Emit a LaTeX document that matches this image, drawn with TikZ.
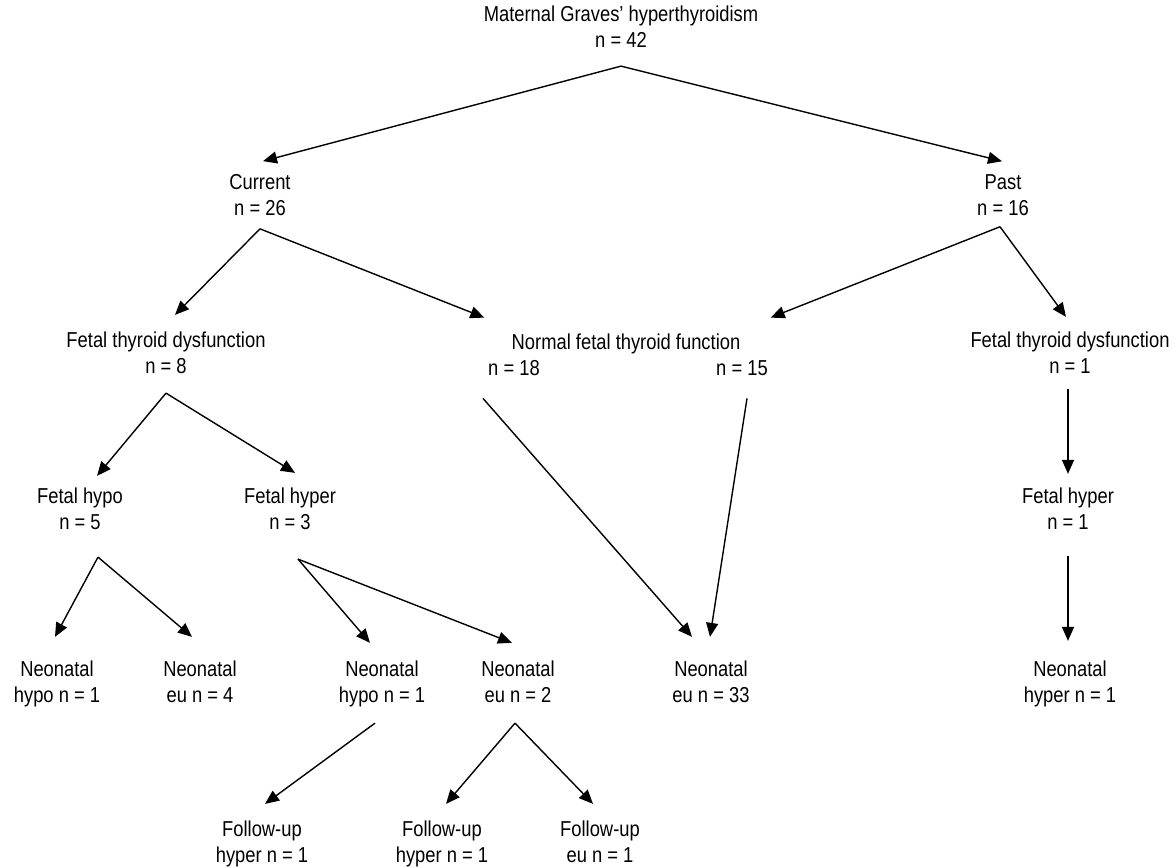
\documentclass[tikz,border=0pt]{standalone}
\usepackage{fontspec}
\setmainfont{Liberation Sans}[FakeStretch=0.85]
\usetikzlibrary{arrows.meta, calc}

\begin{document}
\begin{tikzpicture}[x=0.5pt, y=-0.5pt, >={Triangle[length=7pt,width=6pt]},
    every node/.style={font=\fontsize{10.8}{13}\selectfont, align=center, inner sep=0pt,
      execute at begin node=\strut, execute at end node=\strut},
    arr/.style={->, line width=0.7pt}]

    \useasboundingbox (0,0) rectangle (1175,868);

    % Mother and the two groups
    \node (mat) at (621,31) {Maternal Graves' hyperthyroidism\\n = 42};
    \node (cur) at (260,199) {Current\\n = 26};
    \node (past) at (1003,199) {Past\\n = 16};

    % Fetal thyroid status
    \node (ftd) at (166,357) {Fetal thyroid dysfunction\\n = 8};
    \node (norm) at (626,344) {Normal fetal thyroid function};
    \node (n18) at (514,370) {n = 18};
    \node (n15) at (742,370) {n = 15};
    \node (ftdr) at (1070,357) {Fetal thyroid dysfunction\\n = 1};

    \node (hypo) at (80,513) {Fetal hypo\\n = 5};
    \node (hyper) at (290,513) {Fetal hyper\\n = 3};
    \node (hyperr) at (1068,513) {Fetal hyper\\n = 1};

    % Neonatal outcome
    \node (nhypo) at (57,686) {Neonatal\\hypo n = 1};
    \node (neu) at (200,686) {Neonatal\\eu n = 4};
    \node (nhypo2) at (382,686) {Neonatal\\hypo n = 1};
    \node (neu2) at (518,686) {Neonatal\\eu n = 2};
    \node (neu33) at (711,686) {Neonatal\\eu n = 33};
    \node (nhyper) at (1070,686) {Neonatal\\hyper n = 1};

    % Follow-up
    \node (fhyp1) at (262,846) {Follow-up\\hyper n = 1};
    \node (fhyp2) at (442,846) {Follow-up\\hyper n = 1};
    \node (feu) at (600,846) {Follow-up\\eu n = 1};

    % Arrows from each parent
    \draw[arr] ([yshift=-5pt]mat.south) -- ([xshift=1.5pt,yshift=6.5pt]cur.north);
    \draw[arr] ([yshift=-5pt]mat.south) -- ([xshift=-0.5pt,yshift=6.5pt]past.north);

    \draw[arr] ([yshift=-2.5pt]cur.south) -- ([xshift=4.5pt,yshift=8.5pt]ftd.north);
    \draw[arr] ([yshift=-2.5pt]cur.south) -- ([xshift=-13.5pt,yshift=6.5pt]norm.north west);
    \draw[arr] ([xshift=-1.5pt,yshift=-1.5pt]past.south) -- ([xshift=15pt,yshift=6.5pt]norm.north east);
    \draw[arr] ([xshift=-1.5pt,yshift=-1.5pt]past.south) -- ([xshift=-2pt,yshift=7.5pt]ftdr.north);

    \draw[arr] ([xshift=-1pt,yshift=-3.5pt]ftdr.south) -- ([yshift=7pt]hyperr.north);
    \draw[arr] ([yshift=-9pt]hyperr.south) -- ([xshift=-1pt,yshift=10pt]nhyper.north);

    \draw[arr] ([yshift=-5.5pt]ftd.south) -- ([xshift=8.5pt,yshift=6pt]hypo.north);
    \draw[arr] ([yshift=-5.5pt]ftd.south) -- ([xshift=2.5pt,yshift=7.5pt]hyper.north);

    \draw[arr] ([xshift=9pt,yshift=-9.5pt]hypo.south) -- ([xshift=-1pt,yshift=12pt]nhypo.north);
    \draw[arr] ([xshift=9pt,yshift=-9.5pt]hypo.south) -- ([xshift=-4pt,yshift=12pt]neu.north);
    \draw[arr] ([xshift=4pt,yshift=-10.5pt]hyper.south) -- ([xshift=-6pt,yshift=9pt]nhypo2.north);
    \draw[arr] ([xshift=4pt,yshift=-10.5pt]hyper.south) -- ([xshift=-3pt,yshift=9pt]neu2.north);

    \draw[arr] ([xshift=-15.5pt,yshift=-7.5pt]n18.south) -- ([xshift=-9.5pt,yshift=12pt]neu33.north);
    \draw[arr] ([xshift=2.5pt,yshift=-7.5pt]n15.south) -- ([xshift=-0.5pt,yshift=12pt]neu33.north);

    \draw[arr] ([xshift=-3.5pt,yshift=-6pt]nhypo2.south) -- ([xshift=1.5pt,yshift=8.5pt]fhyp1.north);
    \draw[arr] ([xshift=-1.5pt,yshift=-6pt]neu2.south) -- ([xshift=2pt,yshift=8.5pt]fhyp2.north);
    \draw[arr] ([xshift=-1.5pt,yshift=-6pt]neu2.south) -- ([xshift=-3.5pt,yshift=8.5pt]feu.north);

\end{tikzpicture}
\end{document}
